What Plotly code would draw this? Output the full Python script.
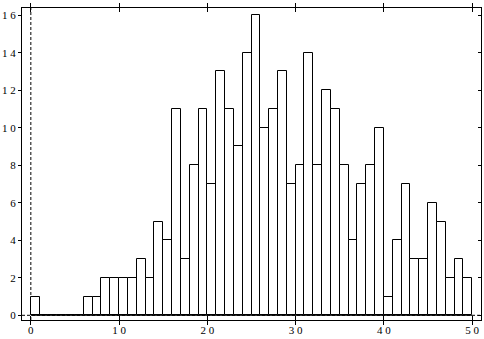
import plotly.graph_objects as go

counts = [1, 0, 0, 0, 0, 0, 1, 1, 2, 2, 2, 2, 3, 2, 5, 4, 11, 3, 8, 11,
          7, 13, 11, 9, 14, 16, 10, 11, 13, 7, 8, 14, 8, 12, 11, 8, 4, 7, 8, 10,
          1, 4, 7, 3, 3, 6, 5, 2, 3, 2]
bin_left = list(range(len(counts)))
x_ticks = [0, 10, 20, 30, 40, 50]
y_ticks = [0, 2, 4, 6, 8, 10, 12, 14, 16]

def spaced(v):
    return " ".join(str(v))

font = dict(family="Liberation Serif", size=11, color="black")

fig = go.Figure()
fig.add_trace(go.Bar(
    x=[b + 0.5 for b in bin_left], y=counts, width=1,
    marker=dict(color="white", line=dict(color="black", width=1)),
    showlegend=False,
))
# invisible trace to drive right axis
fig.add_trace(go.Scatter(x=[None], y=[None], yaxis="y2", showlegend=False))

fig.add_shape(type="line", xref="x", yref="paper", x0=0, x1=0, y0=0, y1=1,
              line=dict(color="black", width=1, dash="3px,2px"), layer="below")
fig.add_shape(type="line", xref="paper", yref="y", x0=0, x1=1, y0=0, y1=0,
              line=dict(color="black", width=1, dash="3px,2px"), layer="below")
fig.add_shape(type="line", xref="x", yref="y", x0=bin_left[0], x1=bin_left[-1] + 1, y0=0, y1=0,
              line=dict(color="black", width=1))

yr = [-0.25, 16.38]
fig.update_layout(
    width=484, height=339,
    margin=dict(l=20, r=2, t=8, b=19),
    paper_bgcolor="white", plot_bgcolor="white",
    font=font, bargap=0,
    xaxis=dict(range=[-1, 51], tickvals=x_ticks, ticktext=[spaced(v) for v in x_ticks],
               ticks="inside", ticklen=4, tickcolor="black", showline=True, linecolor="black",
               linewidth=1, mirror="allticks", showgrid=False, zeroline=False, tickfont=font),
    yaxis=dict(range=yr, tickvals=y_ticks, ticktext=[spaced(v) for v in y_ticks],
               ticks="outside", ticklen=3, tickcolor="black", showline=True, linecolor="black",
               linewidth=1, mirror=True, showgrid=False, zeroline=False, tickfont=font,
               ticklabelstandoff=0),
    yaxis2=dict(range=yr, tickvals=y_ticks, overlaying="y", side="right", ticks="inside",
                ticklen=3, tickcolor="black", showticklabels=False, showgrid=False,
                zeroline=False, showline=False),
)
fig.write_html("out.html")
